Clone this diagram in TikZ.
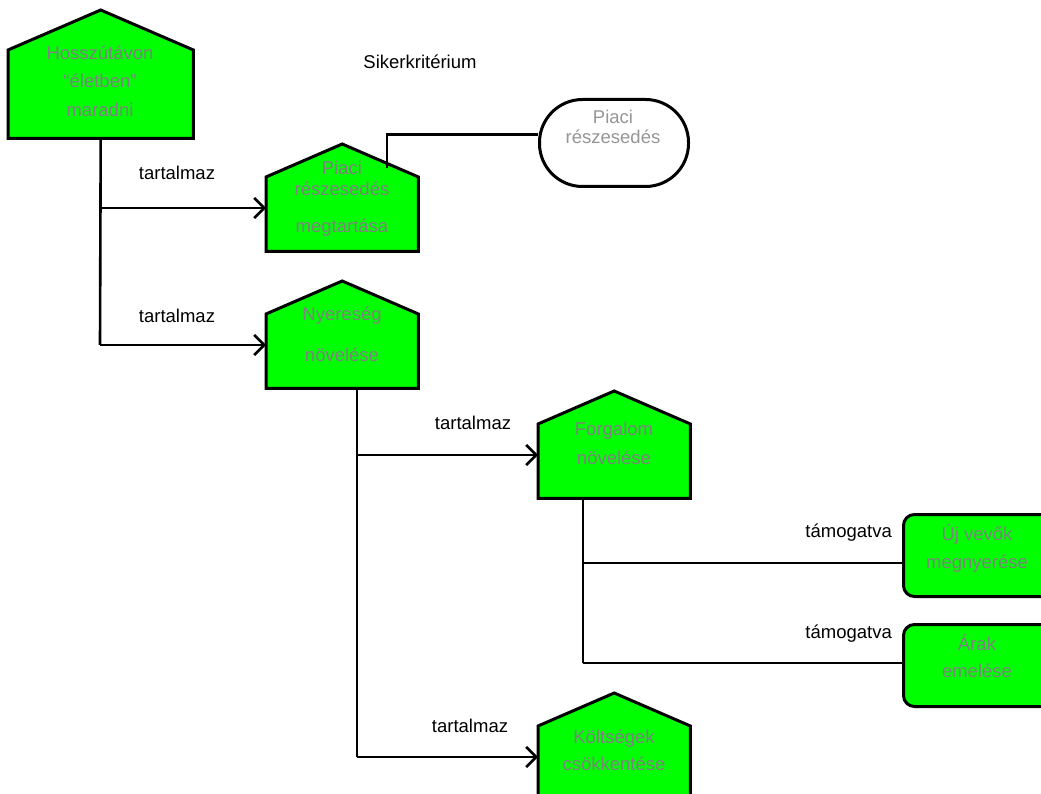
\documentclass[tikz,border=0pt]{standalone}
\usepackage{fontspec}
\setmainfont{Liberation Sans}
\usetikzlibrary{arrows.meta,calc}
\definecolor{hgreen}{RGB}{0,255,0}
\definecolor{htext}{RGB}{128,128,128}
\definecolor{stext}{RGB}{150,150,150}
\newcommand{\houseshape}[2]{%
  \filldraw[house] (#1.south west) -- (#1.north west) -- ($(#1.north)+(0,-#2)$) -- (#1.north east) -- (#1.south east) -- cycle;}
\begin{document}
\begin{tikzpicture}[x=1pt,y=-1pt,
  body/.style={minimum width=152pt, minimum height=74pt, inner sep=0pt, anchor=north west},
  house/.style={fill=hgreen, draw=black, line width=3pt, line join=miter},
  intext/.style={text=htext, align=center, inner sep=0pt},
  lbl/.style={text=black, inner sep=0pt, font=\fontsize{18.5}{22}\selectfont},
  conn/.style={draw=black, line width=2.6pt},
  arr/.style={conn, -{Straight Barb[length=10pt,width=20pt,line width=2.6pt]}},
  rbox/.style={fill=hgreen, draw=black, line width=3pt, rounded corners=11pt, minimum width=150pt, minimum height=82pt, inner sep=0pt, anchor=north west},
  stad/.style={fill=white, draw=black, line width=3pt, rounded corners=43pt, minimum width=149pt, minimum height=87pt, inner sep=0pt, anchor=north west}
]
\useasboundingbox (0,0) rectangle (1041,794);
\clip (0,0) rectangle (1041,794);
% body nodes
\node[body, minimum width=185pt, minimum height=88pt] (h1) at (8,50) {};
\node[body] (h2) at (266,177) {};
\node[body] (h3) at (266,314) {};
\node[body] (h4) at (538,424) {};
\node[body] (h5) at (538,726) {};
\houseshape{h1}{40}
\houseshape{h2}{33}
\houseshape{h3}{33}
\houseshape{h4}{33}
\houseshape{h5}{33}
\node[rbox] (r1) at (902,513) {};
\node[rbox] (r2) at (902,623) {};
\node[stad] (st) at (538,98) {};
% texts
\node[intext, font=\fontsize{18.5}{28.5}\selectfont] (t1) at (100,81) {Hosszútávon\\“életben”\\maradni};
\node[intext, font=\fontsize{18.5}{21}\selectfont] (t2) at (342,199) {Piaci\\részesedés\\[16pt]megtartása};
\node[intext, font=\fontsize{18.5}{41}\selectfont] (t3) at (342,334) {Nyereség\\növelése};
\node[intext, font=\fontsize{18.5}{29}\selectfont] (t4) at (614,443) {Forgalom\\növelése};
\node[intext, font=\fontsize{18.5}{27}\selectfont] (t5) at (614,750.5) {Költségek\\csökkentése};
\node[intext, font=\fontsize{18.5}{28}\selectfont] (t6) at (977,548.5) {Új vevők\\megnyerése};
\node[intext, font=\fontsize{18.5}{27}\selectfont] (t7) at (977,656) {Árak\\emelése};
\node[intext, text=stext, font=\fontsize{18.5}{20}\selectfont] (ts) at (613,127) {Piaci\\részesedés};
% labels
\node[lbl] (sk) at (420,62) {Sikerkritérium};
\node[lbl] (l1) at (177,173) {tartalmaz};
\node[lbl] (l2) at (177,316) {tartalmaz};
\node[lbl] (l3) at (473,423) {tartalmaz};
\node[lbl] (l4) at (470,726) {tartalmaz};
\node[lbl, anchor=east] (l5) at (892,533) {támogatva};
\node[lbl, anchor=east] (l6) at (892,634) {támogatva};
% connector coordinates
\coordinate (j1) at (100,208);
\coordinate (j2) at (100,345);
\coordinate (j3) at (357,455);
\coordinate (j4) at (357,757);
\coordinate (j5) at (583,563);
\coordinate (j6) at (583,663);
\coordinate (s0) at (387,168);
% connectors
\draw[conn] (h1.south) -- (j2);
\draw[arr] (j1) -- (j1 -| h2.west);
\draw[arr] (j2) -- (j2 -| h3.west);
\draw[conn] (h3.south -| j3) -- (j4);
\draw[arr] (j3) -- (j3 -| h4.west);
\draw[arr] (j4) -- (j4 -| h5.west);
\draw[conn] (h4.south -| j5) -- (j6);
\draw[conn] (j5) -- (j5 -| r1.west);
\draw[conn] (j6) -- (j6 -| r2.west);
\draw[conn] (s0) |- ([yshift=8.5pt]st.west);
\end{tikzpicture}
\end{document}
